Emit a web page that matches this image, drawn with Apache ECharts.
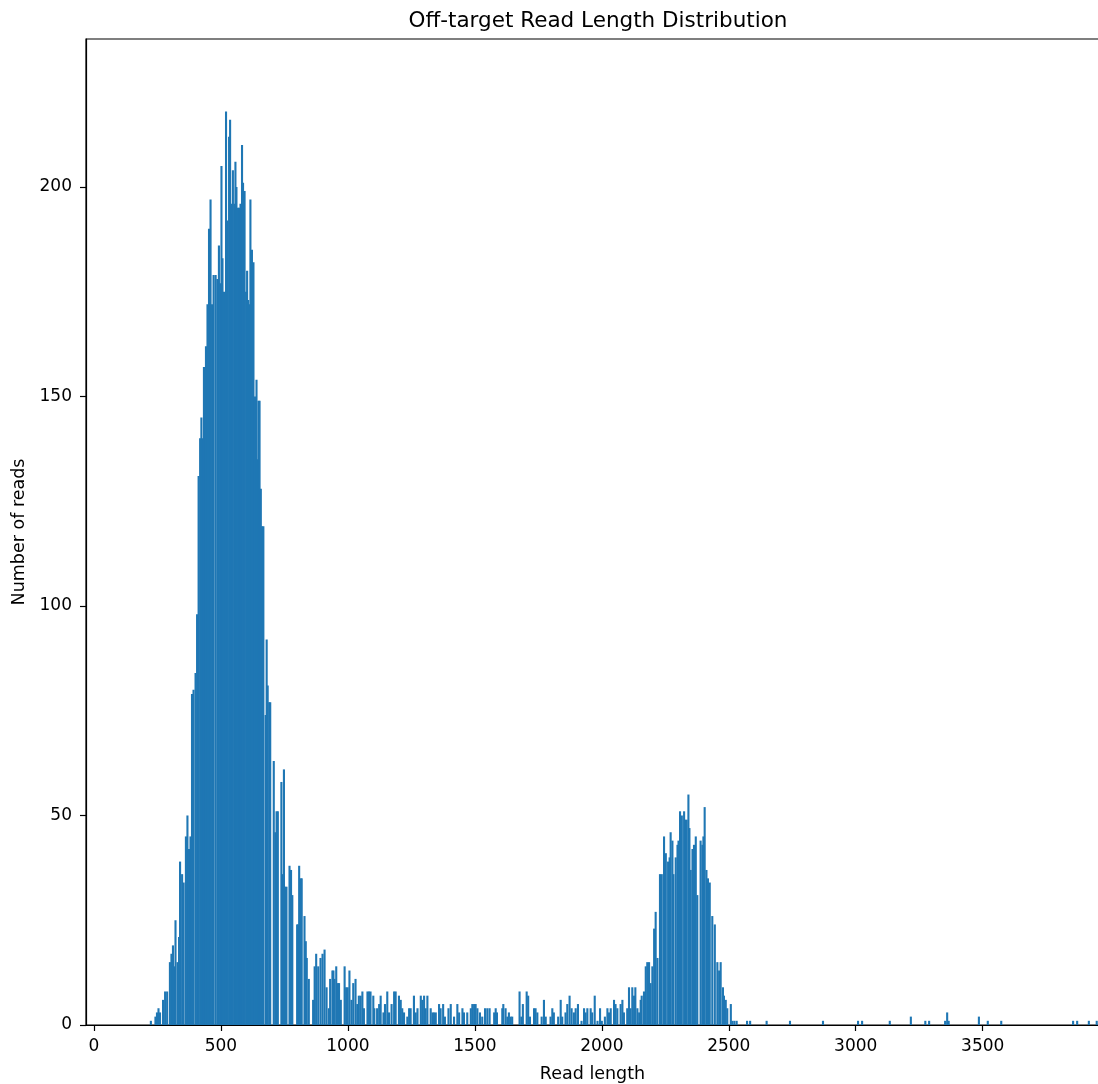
<!DOCTYPE html>
<html>
<head>
<meta charset="utf-8">
<script src="https://cdn.jsdelivr.net/npm/echarts@6/dist/echarts.min.js"></script>
<style>
html, body { margin: 0; padding: 0; background: #fff; }
#chart { width: 1098px; height: 1084px; }
</style>
</head>
<body>
<div id="chart"></div>
<script>
// read lengths (bin positions) and number of reads
var lengths = [
  224, 242, 248, 254, 260, 272, 280, 288, 299, 305, 311, 315, 321, 329, 335, 339, 347, 353,
  362, 368, 374, 380, 386, 392, 400, 406, 412, 418, 423, 429, 433, 437, 441, 447, 453, 459,
  465, 471, 479, 486, 492, 498, 502, 506, 512, 520, 526, 532, 536, 541, 547, 553, 557, 561,
  567, 572, 577, 583, 587, 593, 599, 603, 607, 612, 616, 622, 628, 634, 640, 644, 648, 652,
  657, 662, 667, 676, 680, 684, 690, 694, 708, 714, 719, 724, 738, 742, 748, 753, 758, 770,
  776, 781, 800, 804, 808, 814, 818, 829, 834, 838, 846, 863, 869, 875, 883, 892, 900, 908,
  916, 925, 930, 939, 943, 947, 954, 960, 965, 972, 987, 993, 999, 1006, 1014, 1021, 1030,
  1037, 1043, 1050, 1057, 1063, 1077, 1083, 1089, 1100, 1104, 1115, 1123, 1129, 1140, 1146,
  1155, 1162, 1172, 1182, 1188, 1201, 1208, 1214, 1221, 1234, 1241, 1247, 1260, 1267, 1274,
  1287, 1293, 1300, 1306, 1313, 1326, 1333, 1339, 1346, 1359, 1365, 1375, 1382, 1396, 1405,
  1418, 1431, 1438, 1451, 1457, 1470, 1484, 1490, 1497, 1503, 1510, 1520, 1529, 1540, 1549,
  1558, 1576, 1582, 1587, 1608, 1612, 1621, 1628, 1634, 1641, 1647, 1676, 1683, 1689, 1704,
  1710, 1717, 1733, 1739, 1746, 1763, 1772, 1779, 1798, 1805, 1811, 1828, 1838, 1844, 1857,
  1864, 1873, 1881, 1890, 1897, 1906, 1920, 1930, 1936, 1943, 1956, 1962, 1972, 1983, 1993,
  2000, 2012, 2022, 2028, 2035, 2048, 2054, 2061, 2074, 2081, 2087, 2100, 2107, 2113, 2120,
  2127, 2132, 2140, 2147, 2153, 2157, 2166, 2173, 2179, 2186, 2192, 2199, 2206, 2212, 2219,
  2229, 2236, 2245, 2252, 2261, 2267, 2271, 2278, 2282, 2291, 2298, 2302, 2308, 2315, 2324,
  2328, 2334, 2341, 2345, 2350, 2357, 2363, 2370, 2376, 2389, 2396, 2400, 2405, 2412, 2418,
  2425, 2435, 2445, 2455, 2462, 2468, 2477, 2481, 2488, 2494, 2508, 2514, 2522, 2531, 2572,
  2584, 2649, 2741, 2871, 3009, 3025, 3134, 3217, 3274, 3289, 3352, 3360, 3366, 3485, 3520,
  3573, 3856, 3872, 3918, 3949
];
var counts = [
  1, 2, 3, 4, 3, 6, 8, 8, 15, 17, 19, 14, 25, 15, 21, 39, 36, 34,
  45, 50, 42, 45, 79, 80, 84, 98, 131, 140, 145, 140, 157, 146, 162, 172, 190, 197,
  172, 179, 179, 178, 186, 177, 205, 183, 175, 218, 192, 212, 216, 196, 204, 196, 206, 200,
  195, 195, 196, 210, 201, 199, 175, 180, 173, 172, 197, 185, 182, 150, 154, 135, 149, 149,
  128, 119, 119, 74, 92, 81, 77, 77, 63, 46, 51, 51, 58, 36, 61, 33, 33, 38,
  37, 31, 24, 24, 38, 35, 35, 26, 20, 16, 11, 6, 14, 17, 14, 16, 17, 18,
  9, 4, 11, 13, 13, 11, 14, 10, 10, 6, 14, 9, 9, 13, 6, 10, 11,
  5, 7, 7, 8, 4, 8, 8, 8, 7, 4, 4, 5, 7, 3, 5,
  8, 3, 5, 8, 8, 7, 6, 4, 3, 2, 4, 4, 7, 3, 4,
  7, 6, 7, 4, 7, 4, 3, 3, 3, 5, 4, 5, 2, 4, 5,
  2, 5, 3, 4, 3, 3, 4, 5, 5, 5, 4, 3, 2, 4, 4,
  4, 3, 4, 3, 4, 5, 4, 2, 3, 2, 2, 8, 2, 5, 8,
  7, 2, 4, 4, 3, 2, 6, 2, 2, 4, 3, 2, 6, 2, 3,
  5, 7, 4, 3, 4, 5, 1, 4, 3, 4, 4, 3, 7, 1, 4,
  1, 2, 4, 3, 4, 6, 5, 4, 5, 6, 3, 4, 9, 4, 9,
  7, 9, 4, 3, 6, 7, 8, 14, 15, 15, 10, 14, 23, 27, 16,
  36, 36, 45, 41, 39, 40, 46, 44, 36, 40, 43, 44, 51, 50, 51,
  49, 49, 55, 47, 37, 42, 43, 45, 31, 44, 43, 45, 52, 37, 35,
  34, 26, 24, 15, 13, 15, 9, 7, 6, 4, 5, 1, 1, 1, 1,
  1, 1, 1, 1, 1, 1, 1, 2, 1, 1, 1, 3, 1, 2, 1,
  1, 1, 1, 1, 1
];
var xTicks = [0, 500, 1000, 1500, 2000, 2500, 3000, 3500];
var yTicks = [0, 50, 100, 150, 200];

var barData = lengths.map(function (l, i) { return [l, counts[i]]; });

var font = 'DejaVu Sans';
var plain = function (v) { return String(v); };
var chart = echarts.init(document.getElementById('chart'));
var option = {
    backgroundColor: '#fff',
    animation: false,
    title: {
        text: 'Off-target Read Length Distribution',
        left: 593,
        top: 5,
        textAlign: 'center',
        textStyle: { fontFamily: font, fontSize: 21.5, fontWeight: 'normal', color: '#000' }
    },
    grid: {
        left: 86, top: 39, right: -1, bottom: 59,
        outerBoundsMode: 'none',
        show: true, borderColor: '#000', borderWidth: 1.2, backgroundColor: 'transparent'
    },
    xAxis: {
        type: 'value',
        min: -31.5,
        max: 3958,
        name: 'Read length',
        nameLocation: 'middle',
        nameGap: 40,
        nameTextStyle: { fontFamily: font, fontSize: 17.5, color: '#000' },
        splitLine: { show: false },
        axisLine: { show: true, onZero: false, lineStyle: { color: '#000', width: 1.2 } },
        axisTick: { show: true, length: 6, customValues: xTicks, lineStyle: { color: '#000', width: 1.2 } },
        axisLabel: { customValues: xTicks, formatter: plain, margin: 13, fontFamily: font, fontSize: 17, color: '#000' }
    },
    yAxis: {
        type: 'value',
        min: 0,
        max: 235.3,
        name: 'Number of reads',
        nameLocation: 'middle',
        nameGap: 58,
        nameTextStyle: { fontFamily: font, fontSize: 17.5, color: '#000' },
        splitLine: { show: false },
        axisLine: { show: true, onZero: false, lineStyle: { color: '#000', width: 1.2 } },
        axisTick: { show: true, length: 6, customValues: yTicks, lineStyle: { color: '#000', width: 1.2 } },
        axisLabel: { customValues: yTicks, formatter: plain, margin: 14, fontFamily: font, fontSize: 17, color: '#000' }
    },
    series: [
        {
            type: 'bar',
            data: barData,
            barWidth: 2.1,
            itemStyle: { color: '#1f77b4' }
        }
    ]
};
chart.setOption(option);
</script>
</body>
</html>
